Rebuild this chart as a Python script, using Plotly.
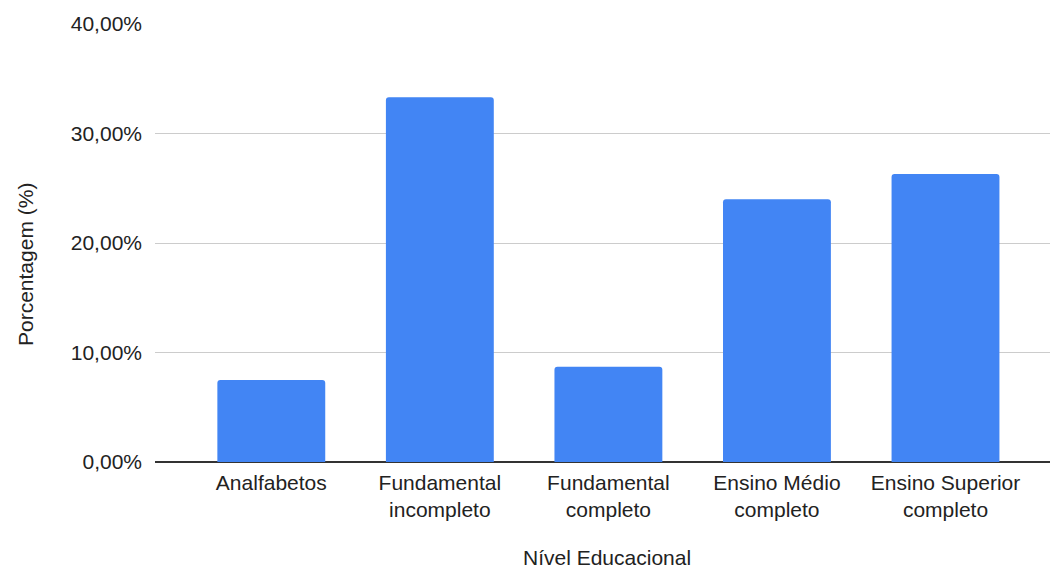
import plotly.graph_objects as go

categories = ["Analfabetos", "Fundamental<br>incompleto", "Fundamental<br>completo",
              "Ensino Médio<br>completo", "Ensino Superior<br>completo"]
values = [7.5, 33.3, 8.7, 24.0, 26.3]
y_ticks = [0, 10, 20, 30, 40]
y_tick_text = [f"{v:.2f}".replace(".", ",") + "%" for v in y_ticks]

FONT = "Liberation Sans, Arial, sans-serif"
FS = 21

fig = go.Figure(go.Bar(
    x=categories, y=values,
    marker=dict(color="#4285F4", cornerradius=3, line=dict(width=0)),
    width=0.64,
))

fig.update_layout(
    width=1050, height=570,
    margin=dict(l=155, r=0, t=24, b=108),
    paper_bgcolor="white", plot_bgcolor="white",
    font=dict(family=FONT, size=FS, color="#222222"),
    showlegend=False,
    xaxis=dict(
        range=[-0.69, 4.62],
        showgrid=False, ticks="", showline=False,
        automargin=False,
        ticklabelstandoff=6,
        tickfont=dict(size=FS, color="#222222"),
    ),
    yaxis=dict(
        range=[0, 40], tickvals=y_ticks, ticktext=y_tick_text,
        showgrid=True, gridcolor="#cccccc", gridwidth=1,
        zeroline=True, zerolinecolor="#333333", zerolinewidth=2,
        ticks="", ticklabelstandoff=12, automargin=False,
        tickfont=dict(size=FS, color="#222222"),
    ),
    annotations=[
        dict(
            text="Porcentagem (%)", textangle=-90, showarrow=False,
            xref="paper", yref="paper",
            x=(25 - 155) / 895, y=(462 - 265) / 438,
            xanchor="center", yanchor="middle",
            font=dict(size=FS, color="#222222", family=FONT),
        ),
        dict(
            text="Nível Educacional", showarrow=False,
            xref="paper", yref="paper",
            x=(607 - 155) / 895, y=(462 - 557) / 438,
            xanchor="center", yanchor="middle",
            font=dict(size=FS, color="#222222", family=FONT),
        ),
    ],
)

fig.write_html("out.html")
